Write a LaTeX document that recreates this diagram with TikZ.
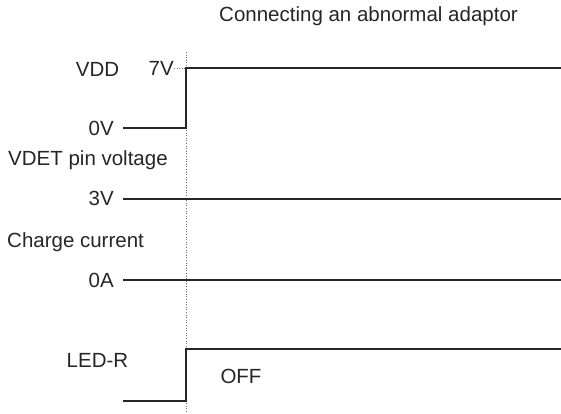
\documentclass[tikz,border=0pt]{standalone}
\usepackage{fontspec}
\setmainfont{Liberation Sans}
\begin{document}
\begin{tikzpicture}[x=1pt,y=-1pt,
  lbl/.style={inner sep=0pt, font=\fontsize{20.5}{24}\selectfont, text=black!85},
  sig/.style={line width=2pt, black!85, line join=miter},
  guide/.style={line width=0.6pt, black!55, dotted}]
\useasboundingbox (0,0) rectangle (561,413);
% title
\node[lbl, anchor=east] (title) at (518,16) {Connecting an abnormal adaptor};
% guide line
\coordinate (gtop) at (186,52);
\coordinate (gbot) at (186,413);
\draw[guide] (gtop) -- (gbot);
% VDD
\node[lbl] (vdd) at (97.5,69) {VDD};
\node[lbl, anchor=east] (v7) at (174,68) {7V};
\node[lbl, anchor=east] (v0) at (114,128) {0V};
\coordinate (vddA) at (123,128);
\coordinate (vddB) at (186,128);
\coordinate (vddC) at (186,68);
\coordinate (vddD) at (561,68);
\draw[guide] (v7.east) -- (vddC);
\draw[sig] (vddA) -- (vddB) -- (vddC) -- (vddD);
% VDET
\node[lbl, anchor=west] (vdet) at (8,160) {VDET pin voltage};
\node[lbl, anchor=east] (v3) at (114,198) {3V};
\coordinate (vdetA) at (123,199);
\coordinate (vdetB) at (561,199);
\draw[sig] (vdetA) -- (vdetB);
% Charge current
\node[lbl, anchor=west] (chg) at (7,242) {Charge current};
\node[lbl, anchor=east] (a0) at (114,280) {0A};
\coordinate (chgA) at (123,280);
\coordinate (chgB) at (561,280);
\draw[sig] (chgA) -- (chgB);
% LED-R
\node[lbl] (led) at (97.5,360) {LED-R};
\node[lbl] (off) at (241,376) {OFF};
\coordinate (ledA) at (123,401);
\coordinate (ledB) at (186,401);
\coordinate (ledC) at (186,349);
\coordinate (ledD) at (561,349);
\draw[sig] (ledA) -- (ledB) -- (ledC) -- (ledD);
\end{tikzpicture}
\end{document}
